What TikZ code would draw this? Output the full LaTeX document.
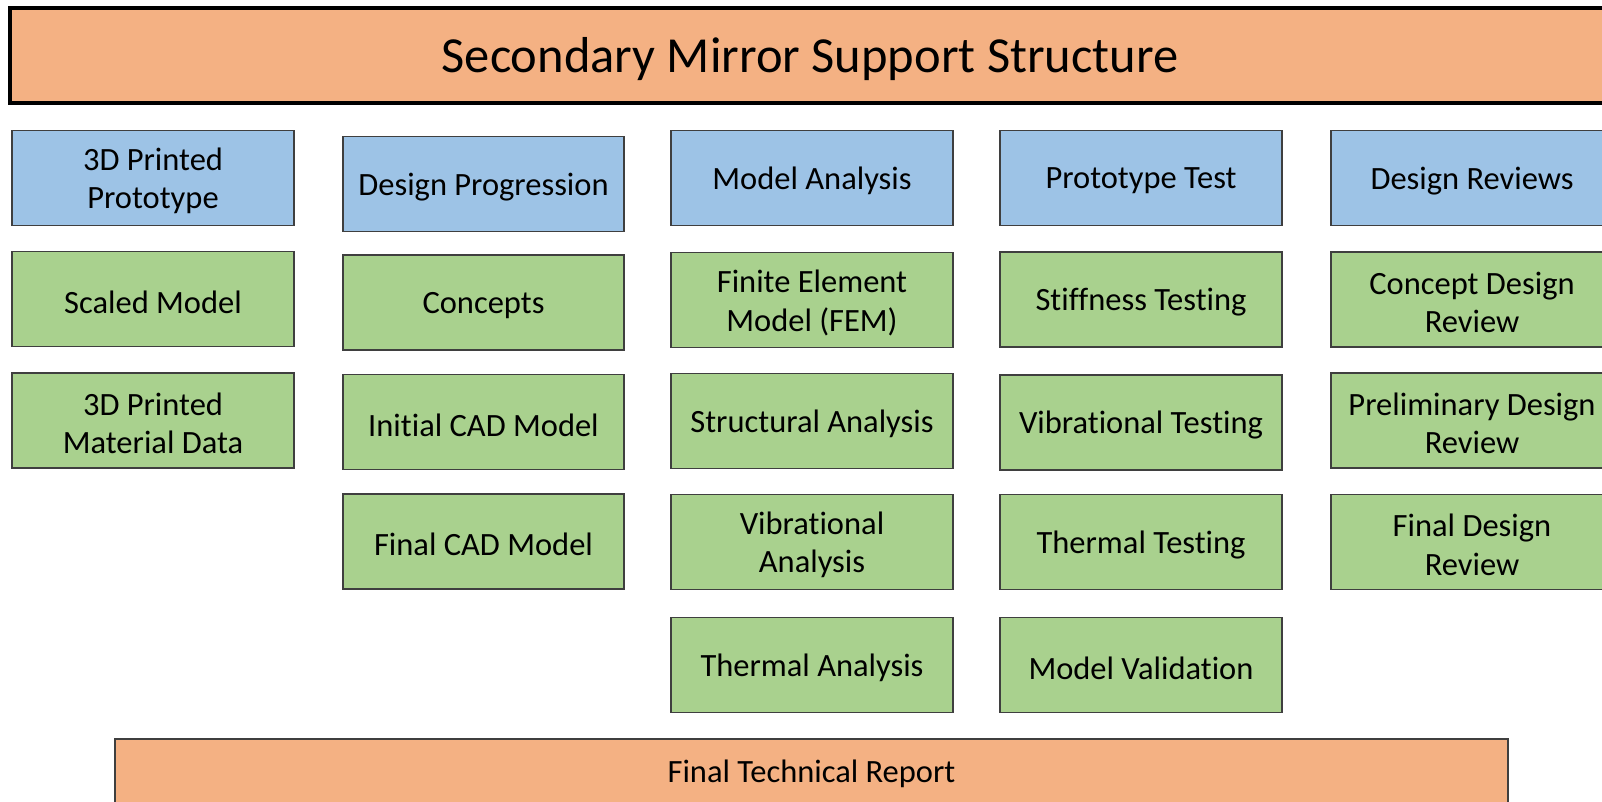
\documentclass[tikz,border=0pt]{standalone}
\usepackage{fontspec}
\setmainfont{Carlito}[RawFeature={-liga;-clig;-dlig;-calt}]
\definecolor{orng}{HTML}{F4B183}
\definecolor{blu}{HTML}{9DC3E6}
\definecolor{grn}{HTML}{A9D18E}
\definecolor{edge}{HTML}{3F3F3F}
\tikzset{
  cell/.style={draw=edge, line width=1.6pt, minimum width=282pt, minimum height=95pt, inner sep=0pt},
  head/.style={cell, fill=blu},
  item/.style={cell, fill=grn},
  txt/.style={inner sep=0pt, align=center, font=\fontsize{32.5}{38.5}\selectfont, text=black, yshift=-3pt},
  titlebox/.style={draw=black, line width=3.5pt, fill=orng, minimum width=1600pt, minimum height=95pt, inner sep=0pt},
  titletxt/.style={inner sep=0pt, font=\fontsize{50.5}{60}\selectfont, text=black, yshift=-4pt},
  reportbox/.style={draw=edge, line width=1.6pt, fill=orng, minimum width=1393pt, minimum height=66pt, inner sep=0pt}
}
\begin{document}
\begin{tikzpicture}[x=1pt,y=-1pt]
\useasboundingbox (0,0) rectangle (1602,801);
\clip (0,0) rectangle (1602,801);
\node[titlebox, label={[titletxt]center:Secondary Mirror Support Structure}] (title) at (810,55.5) {};
% column 1
\node[head, label={[txt]center:{3D Printed\\Prototype}}] (c1h) at (153,178) {};
\node[item, label={[txt]center:Scaled Model}] (c1a) at (153,299) {};
\node[item, label={[txt]center:{3D Printed\\Material Data}}] (c1b) at (153,420.5) {};
% column 2
\node[head, minimum width=281pt, label={[txt]center:Design Progression}] (c2h) at (483.5,184) {};
\node[item, minimum width=281pt, label={[txt]center:Concepts}] (c2a) at (483.5,302.5) {};
\node[item, minimum width=281pt, label={[txt]center:Initial CAD Model}] (c2b) at (483.5,422) {};
\node[item, minimum width=281pt, label={[txt]center:Final CAD Model}] (c2c) at (483.5,541.5) {};
% column 3
\node[head, label={[txt]center:Model Analysis}] (c3h) at (812,178) {};
\node[item, label={[txt]center:{Finite Element\\Model (FEM)}}] (c3a) at (812,300) {};
\node[item, label={[txt]center:Structural Analysis}] (c3b) at (812,421) {};
\node[item, label={[txt]center:{Vibrational\\Analysis}}] (c3c) at (812,542) {};
\node[item, label={[txt]center:Thermal Analysis}] (c3d) at (812,665) {};
% column 4
\node[head, label={[txt]center:Prototype Test}] (c4h) at (1141,178) {};
\node[item, label={[txt]center:Stiffness Testing}] (c4a) at (1141,299.5) {};
\node[item, label={[txt]center:Vibrational Testing}] (c4b) at (1141,422.5) {};
\node[item, label={[txt]center:Thermal Testing}] (c4c) at (1141,542) {};
\node[item, label={[txt]center:Model Validation}] (c4d) at (1141,665) {};
% column 5
\node[head, label={[txt]center:Design Reviews}] (c5h) at (1472,178) {};
\node[item, label={[txt]center:{Concept Design\\Review}}] (c5a) at (1472,299.5) {};
\node[item, label={[txt]center:{Preliminary Design\\Review}}] (c5b) at (1472,420.5) {};
\node[item, label={[txt]center:{Final Design\\Review}}] (c5c) at (1472,542) {};
% bottom
\node[reportbox, label={[txt, yshift=1pt]center:Final Technical Report}] (report) at (811.5,772) {};
\end{tikzpicture}
\end{document}
